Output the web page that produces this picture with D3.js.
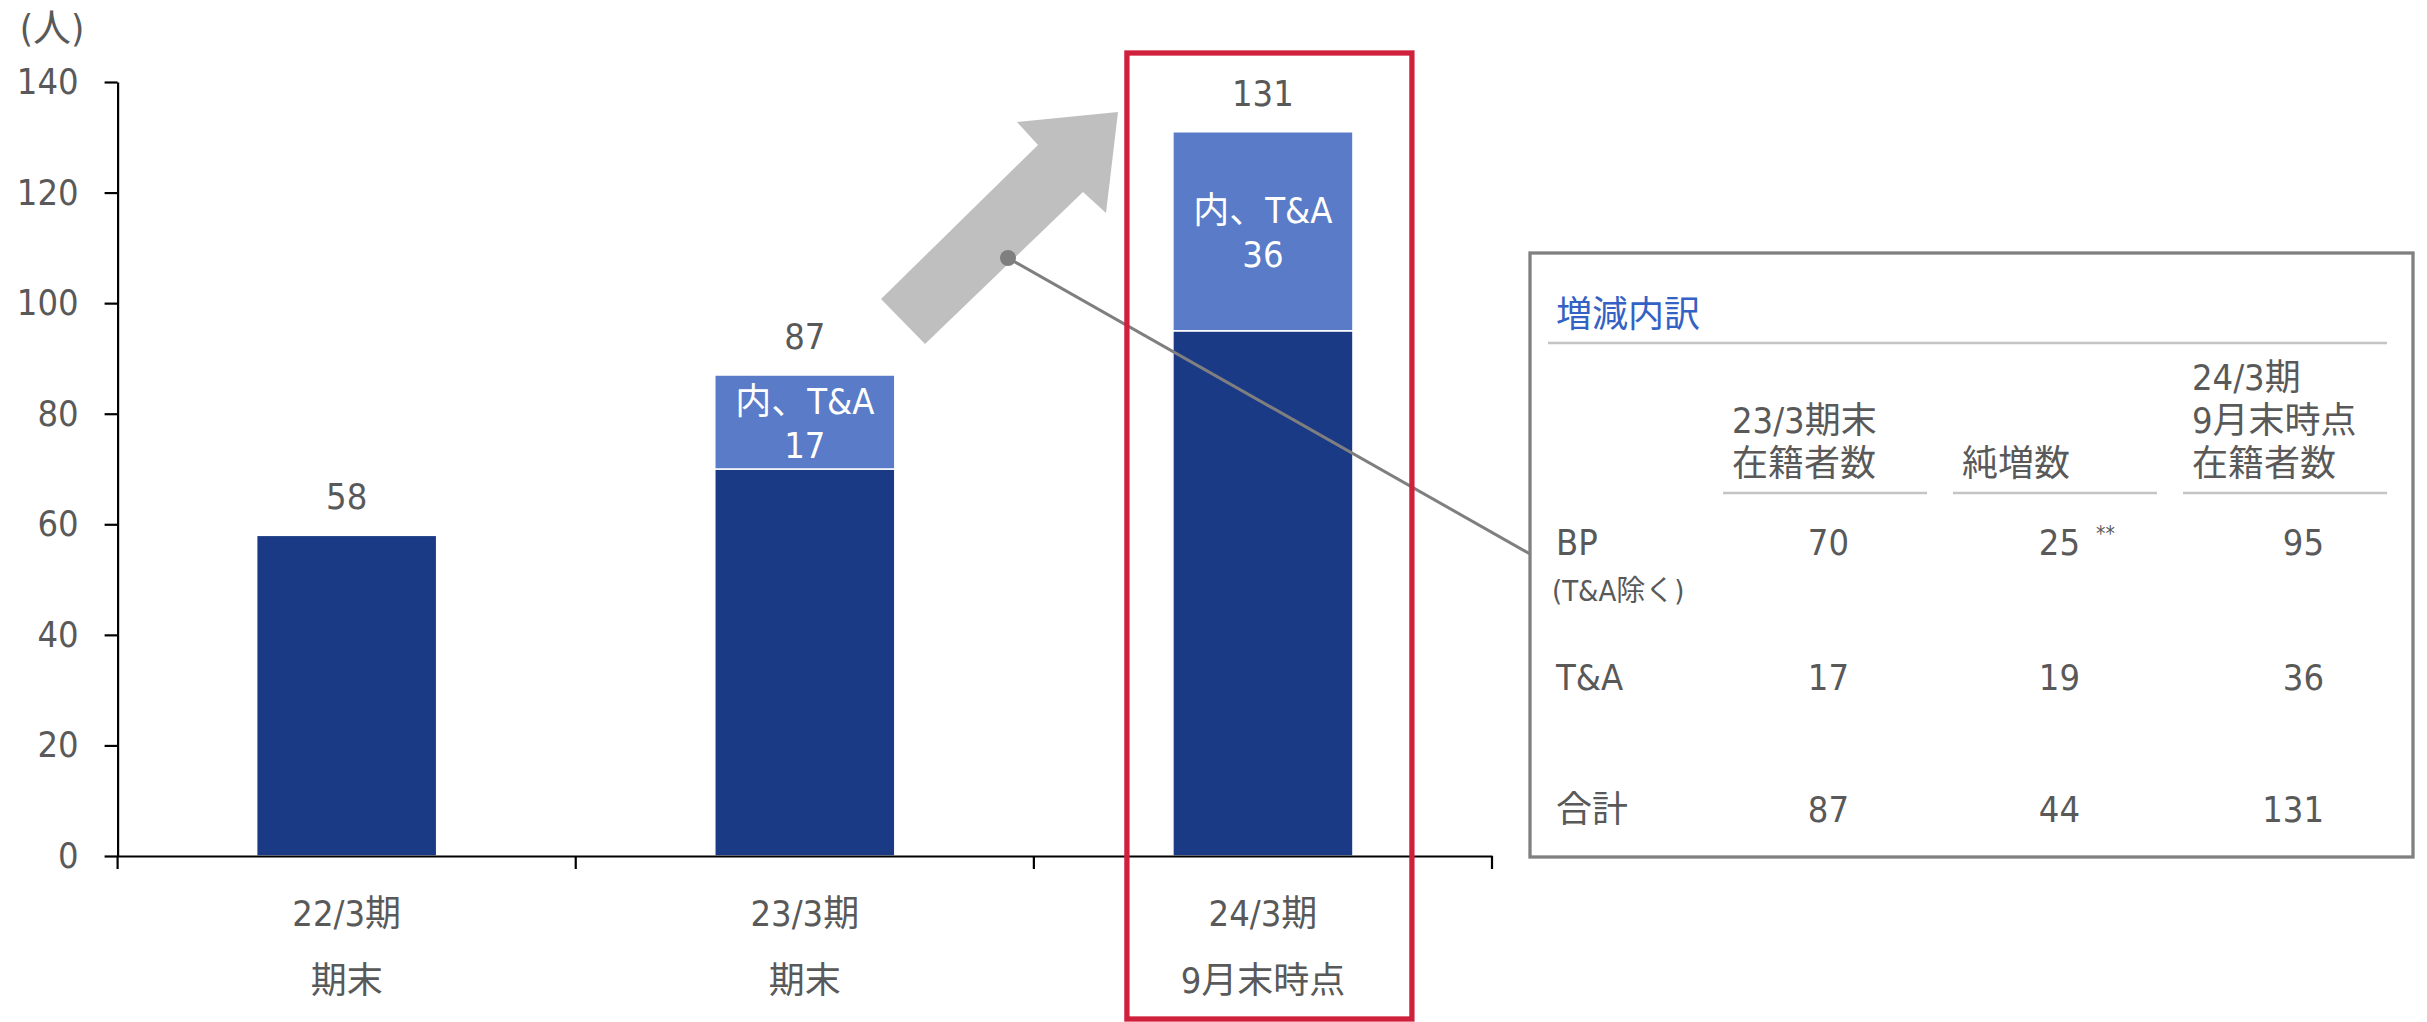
<!DOCTYPE html>
<html lang="ja">
<head>
<meta charset="utf-8">
<title>在籍者数の推移</title>
<script src="https://cdn.jsdelivr.net/npm/d3@7"></script>
<style>
  html, body { margin: 0; padding: 0; background: #ffffff; }
  svg { display: block; font-family: "DejaVu Sans Condensed", "DejaVu Sans", "Noto Sans CJK JP", sans-serif; }
</style>
</head>
<body>
<svg id="chart" width="2427" height="1022"></svg>
<script>
// ---- data ----
const catLine1 = ["22/3期", "23/3期", "24/3期"];
const catLine2 = ["期末", "期末", "9月末時点"];
const bpValues = [58, 70, 95];      // BP (T&A除く)
const taValues = [0, 17, 36];       // 内、T&A
const yTicks = [0, 20, 40, 60, 80, 100, 120, 140];
const yUnit = "(人)";
const taLabel = "内、T&A";

const tableTitle = "増減内訳";
const tableHeaders = [["23/3期末", "在籍者数"], ["純増数"], ["24/3期", "9月末時点", "在籍者数"]];
const tableRowLabels = ["BP", "T&A", "合計"];
const tableRowNote = "(T&A除く)";
const tableBP = [70, 25, 95];
const tableTA = [17, 19, 36];
const tableTotal = [87, 44, 131];
const tableFootMark = "**";

// ---- layout ----
const svg = d3.select("#chart");
const TEXT = "#595959";
const DARK = "#1b3a86";
const LIGHT = "#5a7bc7";
const FS = 36;

const x0 = 117.6, x1 = 1492, yBase = 856, yTop = 82;
const x = d3.scaleBand().domain(catLine1).range([x0, x1])
  .paddingInner(0.607).paddingOuter(0.3035);
const y = d3.scaleLinear().domain([0, 140]).range([yBase, yTop]);

const rows = catLine1.map((c, i) => ({
  cat: c, line2: catLine2[i], bp: bpValues[i], ta: taValues[i], total: bpValues[i] + taValues[i]
}));

// ---- bars ----
const gBars = svg.append("g");
gBars.selectAll("rect.bp").data(rows).join("rect")
  .attr("class", "bp")
  .attr("x", d => x(d.cat)).attr("width", x.bandwidth())
  .attr("y", d => y(d.bp)).attr("height", d => y(0) - y(d.bp))
  .attr("fill", DARK).attr("stroke", "#ffffff").attr("stroke-width", 1.5);
gBars.selectAll("rect.ta").data(rows.filter(d => d.ta > 0)).join("rect")
  .attr("class", "ta")
  .attr("x", d => x(d.cat)).attr("width", x.bandwidth())
  .attr("y", d => y(d.total)).attr("height", d => y(d.bp) - y(d.total))
  .attr("fill", LIGHT).attr("stroke", "#ffffff").attr("stroke-width", 1.5);

// labels inside the T&A segment (one text per line)
const taRows = rows.filter(d => d.ta > 0);
gBars.selectAll("text.inner1").data(taRows).join("text")
  .attr("class", "inner1")
  .attr("x", d => x(d.cat) + x.bandwidth() / 2)
  .attr("y", d => (y(d.total) + y(d.bp)) / 2 - 8)
  .attr("text-anchor", "middle").attr("fill", "#ffffff").attr("font-size", FS)
  .text(taLabel);
gBars.selectAll("text.inner2").data(taRows).join("text")
  .attr("class", "inner2")
  .attr("x", d => x(d.cat) + x.bandwidth() / 2)
  .attr("y", d => (y(d.total) + y(d.bp)) / 2 + 36)
  .attr("text-anchor", "middle").attr("fill", "#ffffff").attr("font-size", FS)
  .text(d => d.ta);

// total labels above the bars
gBars.selectAll("text.total").data(rows).join("text")
  .attr("class", "total")
  .attr("x", d => x(d.cat) + x.bandwidth() / 2)
  .attr("y", d => y(d.total) - 26)
  .attr("text-anchor", "middle").attr("fill", TEXT).attr("font-size", FS)
  .text(d => d.total);

// ---- axes ----
const yAxis = svg.append("g").attr("transform", `translate(${x0},0)`)
  .call(d3.axisLeft(y).tickValues(yTicks).tickSize(13).tickPadding(26).tickSizeOuter(0));
yAxis.select(".domain").attr("stroke", "#000").attr("stroke-width", 2.2);
yAxis.selectAll(".tick line").attr("stroke", "#000").attr("stroke-width", 2.2);
yAxis.selectAll(".tick text").attr("fill", TEXT).attr("font-size", FS)
  .attr("font-family", null);
yAxis.attr("font-family", null).attr("font-size", null);

const xAxis = svg.append("g").attr("transform", `translate(0,${yBase})`)
  .call(d3.axisBottom(x).tickSize(0).tickSizeOuter(0).tickFormat(""));
xAxis.select(".domain").attr("stroke", "#000").attr("stroke-width", 2.2);
const step = x.step();
const bounds = [x0].concat(catLine1.map(c => x(c) - step * x.paddingInner() / 2 + step));
xAxis.selectAll("line.bound").data(bounds).join("line")
  .attr("class", "bound")
  .attr("x1", d => d).attr("x2", d => d).attr("y1", 0).attr("y2", 13)
  .attr("stroke", "#000").attr("stroke-width", 2.2);

const gCat = svg.append("g");
gCat.selectAll("text.c1").data(rows).join("text").attr("class", "c1")
  .attr("x", d => x(d.cat) + x.bandwidth() / 2).attr("y", 926)
  .attr("text-anchor", "middle").attr("fill", TEXT).attr("font-size", FS).text(d => d.cat);
gCat.selectAll("text.c2").data(rows).join("text").attr("class", "c2")
  .attr("x", d => x(d.cat) + x.bandwidth() / 2).attr("y", 993)
  .attr("text-anchor", "middle").attr("fill", TEXT).attr("font-size", FS).text(d => d.line2);

svg.append("text").attr("x", 52).attr("y", 41).attr("text-anchor", "middle")
  .attr("fill", TEXT).attr("font-size", 38).text(yUnit);

// ---- growth arrow ----
svg.append("polygon")
  .attr("points", [[1118,112],[1106,213],[1083,192],[925,344],[881,299],[1038,145],[1017,122]].map(p => p.join(",")).join(" "))
  .attr("fill", "#bfbfbf");

// ---- callout to the breakdown table ----
const tbl = { left: 1530, top: 253, right: 2413, bottom: 857 };
svg.append("line").attr("x1", 1008).attr("y1", 258).attr("x2", tbl.left).attr("y2", 554)
  .attr("stroke", "#7f7f7f").attr("stroke-width", 3);
svg.append("circle").attr("cx", 1008).attr("cy", 258).attr("r", 8).attr("fill", "#7f7f7f");

// highlight frame around the latest period
const hx = x(catLine1[2]);
svg.append("rect")
  .attr("x", hx - 46).attr("y", 53).attr("width", 285).attr("height", 966)
  .attr("fill", "none").attr("stroke", "#d0213c").attr("stroke-width", 5.3);

// ---- breakdown table ----
const gT = svg.append("g");
gT.append("rect").attr("x", tbl.left).attr("y", tbl.top)
  .attr("width", tbl.right - tbl.left).attr("height", tbl.bottom - tbl.top)
  .attr("fill", "#ffffff").attr("stroke", "#808080").attr("stroke-width", 3.3);

gT.append("text").attr("x", 1556).attr("y", 327).attr("fill", "#3462c4").attr("font-size", FS)
  .text(tableTitle);
gT.append("line").attr("x1", 1548).attr("x2", 2387).attr("y1", 343).attr("y2", 343)
  .attr("stroke", "#c4c4c4").attr("stroke-width", 2.5);

const colLine = [[1723, 1927], [1953, 2157], [2183, 2387]];
const colRight = [1849, 2080, 2324];
const headerBase = 476, lineGap = 43;
tableHeaders.forEach((lines, ci) => {
  lines.forEach((ln, li) => {
    gT.append("text").attr("x", colLine[ci][0] + 9)
      .attr("y", headerBase - (lines.length - 1 - li) * lineGap)
      .attr("fill", TEXT).attr("font-size", FS).text(ln);
  });
  gT.append("line").attr("x1", colLine[ci][0]).attr("x2", colLine[ci][1])
    .attr("y1", 493).attr("y2", 493).attr("stroke", "#c4c4c4").attr("stroke-width", 2.5);
});

const rowBase = [555, 690, 822];
const rowVals = [tableBP, tableTA, tableTotal];
tableRowLabels.forEach((lab, ri) => {
  gT.append("text").attr("x", 1556).attr("y", rowBase[ri]).attr("fill", TEXT)
    .attr("font-size", FS).text(lab);
  gT.selectAll(null).data(rowVals[ri]).join("text")
    .attr("x", (d, i) => colRight[i]).attr("y", rowBase[ri])
    .attr("text-anchor", "end").attr("fill", TEXT).attr("font-size", FS)
    .text(d => d);
});
gT.append("text").attr("x", 1552).attr("y", 601).attr("fill", TEXT).attr("font-size", 29)
  .text(tableRowNote);
gT.append("text").attr("x", 2096).attr("y", 541).attr("fill", TEXT).attr("font-size", 21)
  .text(tableFootMark);
</script>
</body>
</html>
